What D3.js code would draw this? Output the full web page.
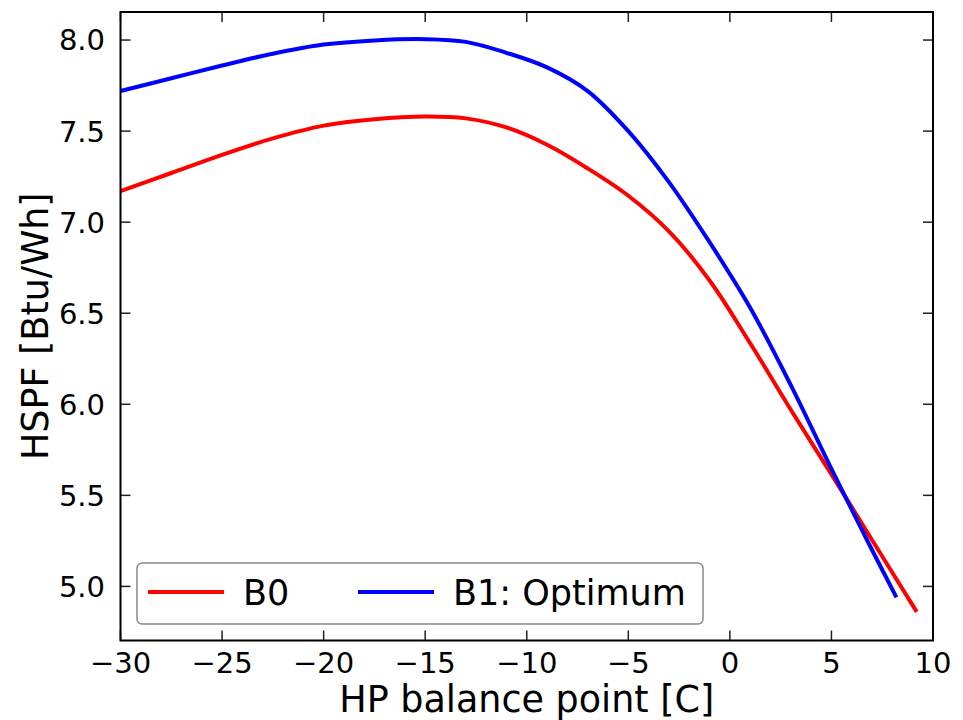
<!DOCTYPE html>
<html>
<head>
<meta charset="utf-8">
<script src="https://cdn.jsdelivr.net/npm/d3@7"></script>
<style>
  body { margin: 0; background: #fff; }
  text { font-family: "DejaVu Sans", sans-serif; fill: #000; }
</style>
</head>
<body>
<script>
// balance point [C] and HSPF values
let xB0 = [-30, -27.5, -25, -22.5, -20, -17.5, -15, -13, -11, -9, -7, -5, -3, -1, 1, 3, 5, 7, 9.2]
let yB0 = [7.17, 7.27, 7.37, 7.46, 7.53, 7.565, 7.58, 7.57, 7.52, 7.425, 7.295, 7.145, 6.95, 6.68, 6.335, 5.97, 5.615, 5.255, 4.86]
let xB1 = [-30, -27.5, -25, -22.5, -20, -17.5, -15, -13, -11, -9, -7, -5, -3, -1, 1, 3, 5, 7, 8.2]
let yB1 = [7.72, 7.79, 7.86, 7.925, 7.975, 7.998, 8.005, 7.99, 7.93, 7.85, 7.72, 7.5, 7.22, 6.89, 6.53, 6.105, 5.645, 5.2, 4.94]
let seriesNames = ['B0', 'B1: Optimum']
let seriesColors = ['#ff0000', '#0000ff']
let xTicks = [-30, -25, -20, -15, -10, -5, 0, 5, 10]
let yTicks = [5.0, 5.5, 6.0, 6.5, 7.0, 7.5, 8.0]

let W = 963, H = 720
let m = {l: 120.5, r: 30, t: 12, b: 79.5}

let svg = d3.select('body').append('svg').attr('width', W).attr('height', H)

let x = d3.scaleLinear().domain([-30, 10]).range([m.l, W - m.r])
let y = d3.scaleLinear().domain([4.703, 8.154]).range([H - m.b, m.t])

let series = [
  {name: seriesNames[0], color: seriesColors[0], pts: d3.zip(xB0, yB0)},
  {name: seriesNames[1], color: seriesColors[1], pts: d3.zip(xB1, yB1)}
]

let line = d3.line()
  .x(function (d) { return x(d[0]) })
  .y(function (d) { return y(d[1]) })
  .curve(d3.curveCatmullRom.alpha(0.5))

svg.append('g').selectAll('path').data(series).enter().append('path')
  .attr('d', function (d) { return line(d.pts) })
  .attr('fill', 'none')
  .attr('stroke', function (d) { return d.color })
  .attr('stroke-width', 4)

// ticks pointing inward on all four sides
let tl = 10
let ticks = svg.append('g').attr('stroke', '#222').attr('stroke-width', 1.5)
xTicks.forEach(function (t) {
  ticks.append('line').attr('x1', x(t)).attr('x2', x(t)).attr('y1', y.range()[0]).attr('y2', y.range()[0] - tl)
  ticks.append('line').attr('x1', x(t)).attr('x2', x(t)).attr('y1', y.range()[1]).attr('y2', y.range()[1] + tl)
})
yTicks.forEach(function (t) {
  ticks.append('line').attr('x1', x.range()[0]).attr('x2', x.range()[0] + tl).attr('y1', y(t)).attr('y2', y(t))
  ticks.append('line').attr('x1', x.range()[1]).attr('x2', x.range()[1] - tl).attr('y1', y(t)).attr('y2', y(t))
})

svg.append('rect')
  .attr('x', m.l).attr('y', m.t)
  .attr('width', W - m.r - m.l).attr('height', H - m.b - m.t)
  .attr('fill', 'none').attr('stroke', '#000').attr('stroke-width', 2)

svg.append('g').selectAll('text').data(xTicks).enter().append('text')
  .attr('x', function (d) { return x(d) })
  .attr('y', 673)
  .attr('text-anchor', 'middle')
  .style('font-size', '29px')
  .text(function (d) { return d < 0 ? '\u2212' + Math.abs(d) : d })

svg.append('g').selectAll('text').data(yTicks).enter().append('text')
  .attr('x', 105)
  .attr('y', function (d) { return y(d) })
  .attr('dy', '0.36em')
  .attr('text-anchor', 'end')
  .style('font-size', '29px')
  .text(function (d) { return d.toFixed(1) })

svg.append('text')
  .attr('x', (m.l + W - m.r) / 2).attr('y', 712)
  .attr('text-anchor', 'middle')
  .style('font-size', '36.5px')
  .text('HP balance point [C]')

svg.append('text')
  .attr('transform', 'translate(48,' + (m.t + H - m.b) / 2 + ') rotate(-90)')
  .attr('text-anchor', 'middle')
  .style('font-size', '36.5px')
  .text('HSPF [Btu/Wh]')

// legend
let lg = svg.append('g')
lg.append('rect')
  .attr('x', 137).attr('y', 563).attr('width', 566).attr('height', 61)
  .attr('rx', 5).attr('fill', '#fff').attr('stroke', '#888').attr('stroke-width', 1.5)
let lx = [148, 358]
series.forEach(function (s, i) {
  lg.append('line').attr('x1', lx[i]).attr('x2', lx[i] + 76).attr('y1', 592).attr('y2', 592)
    .attr('stroke', s.color).attr('stroke-width', 4)
  lg.append('text').attr('x', lx[i] + 95).attr('y', 592).attr('dy', '0.36em')
    .style('font-size', '35px').text(s.name)
})
</script>
</body>
</html>
